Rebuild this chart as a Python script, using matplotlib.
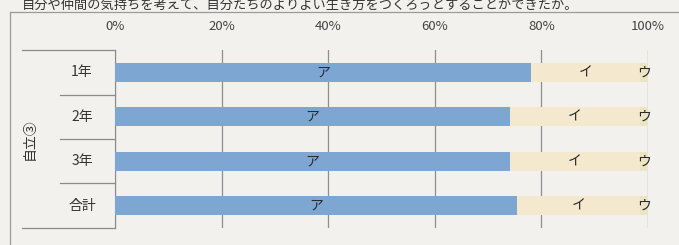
import matplotlib.pyplot as plt
from matplotlib.lines import Line2D

plt.rcParams['font.family'] = ['Noto Sans CJK JP', 'DejaVu Sans']

# data (percent)
grades = ["1年", "2年", "3年", "合計"]
series = ["ア", "イ", "ウ"]
val_a = [78.0, 74.1, 74.1, 75.4]
val_i = [20.5, 24.4, 24.4, 23.1]
val_u = [1.5, 1.5, 1.5, 1.5]
group_label = "自立③"
xticks = [0, 20, 40, 60, 80, 100]
question = "自分や仲間の気持ちを考えて、自分たちのよりよい生き方をつくろうとすることができたか。"

colors = ["#7ea6d3", "#f4e8cf", "#ece5c4"]
bg = "#f3f1ee"

fig = plt.figure(figsize=(6.79, 2.45), dpi=100, facecolor=bg)
W, H = 679, 245

ax = fig.add_axes([115 / W, 1 - 228 / H, (648 - 115) / W, (228 - 50) / H])
ax.set_facecolor(bg)

ypos = list(range(len(grades)))
left = [0] * len(grades)
for name, vals, c in zip(series, [val_a, val_i, val_u], colors):
    bars = ax.barh(ypos, vals, left=left, height=0.43, color=c, zorder=3)
    for b, v, l in zip(bars, vals, left):
        ax.text(l + v / 2, b.get_y() + b.get_height() / 2, name,
                ha="center", va="center", fontsize=10, color="#2a2a2a", zorder=4)
    left = [l + v for l, v in zip(left, vals)]

ax.set_xlim(0, 100)
ax.set_ylim(len(grades) - 0.5, -0.5)
ax.set_xticks(xticks)
ax.set_xticklabels([f"{t}%" for t in xticks], fontsize=9.5, color="#444444")
ax.xaxis.tick_top()
ax.tick_params(axis="x", length=0, pad=12)
ax.set_yticks([])
ax.grid(axis="x", color="#8f8f8f", linewidth=0.9, zorder=1)
for s in ["top", "right", "bottom"]:
    ax.spines[s].set_visible(False)
ax.spines["left"].set_color("#8a8a8a")

# multi-level category axis on the left
for y, g in zip(ypos, grades):
    ax.text(-33 / 533 * 100, y, g, ha="center", va="center",
            fontsize=10, color="#333333", clip_on=False)
fig.text(30 / W, 1 - 139 / H, group_label, rotation=90, ha="center", va="center",
         fontsize=10, color="#333333")

def hline(x0, x1, y):
    fig.add_artist(Line2D([x0 / W, x1 / W], [1 - y / H, 1 - y / H],
                          color="#8a8a8a", linewidth=0.9))

hline(22, 115, 50)
hline(22, 115, 228)
for y in [95, 139, 183]:
    hline(60, 115, y)

# outer frame of the chart area
fig.add_artist(Line2D([10 / W, 10 / W], [1 - 12 / H, 0], color="#9a9a9a", linewidth=0.9))
fig.add_artist(Line2D([10 / W, 1], [1 - 12 / H, 1 - 12 / H], color="#9a9a9a", linewidth=0.9))

# question text above the chart frame
fig.text(22 / W, 1 - 5 / H, question, ha="left", va="center", fontsize=9.5, color="#333333")

fig.savefig("out.png", dpi=100, facecolor=bg)
